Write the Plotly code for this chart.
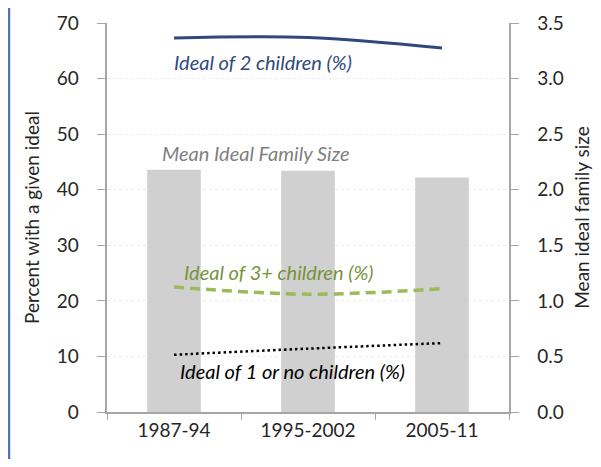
import plotly.graph_objects as go

categories = ["1987-94", "1995-2002", "2005-11"]
mean_ideal_size = [2.18, 2.17, 2.11]
ideal_two = [67.3, 67.4, 65.5]
ideal_three_plus = [22.5, 21.2, 22.2]
ideal_one_or_none = [10.3, 11.4, 12.4]

FONT = "Lato"
OFF = 8  # page body margin
W, H = 601 - 2 * OFF, 467 - 2 * OFF
PL, PR, PT, PB = 107, 509, 23, 412  # plot area in screenshot pixels
L, T = PL - OFF, PT - OFF
R = W - (PR - OFF)
B = H - (PB - OFF)
pw, ph = PR - PL, PB - PT

def px(x):
    return (x - PL) / pw

def py(y):
    return (PB - y) / ph

fig = go.Figure()
fig.add_trace(go.Bar(x=categories, y=mean_ideal_size, width=0.4,
                     marker=dict(color="#D0D0D0", line=dict(width=0)),
                     yaxis="y", showlegend=False))
fig.add_trace(go.Scatter(x=categories, y=ideal_two, mode="lines", yaxis="y2",
                         line=dict(color="#2E4A7D", width=3, shape="spline"), showlegend=False))
fig.add_trace(go.Scatter(x=categories, y=ideal_three_plus, mode="lines", yaxis="y2",
                         line=dict(color="#9BBB59", width=3.5, dash="10px,6px", shape="spline"), showlegend=False))
fig.add_trace(go.Scatter(x=categories, y=ideal_one_or_none, mode="lines", yaxis="y2",
                         line=dict(color="#000000", width=2.5, dash="2.5px,3px", shape="spline"), showlegend=False))

axis_col = "#A6A6A6"
TS = 19
PAD = "\u00a0\u00a0\u00a0"
fig.update_layout(
    template="none",
    width=W, height=H,
    margin=dict(l=L, r=R, t=T, b=B, autoexpand=False),
    paper_bgcolor="white", plot_bgcolor="white",
    font=dict(family=FONT, color="#262626"),
    bargap=0.6,
    xaxis=dict(type="category", showline=True, linecolor=axis_col, linewidth=1.5,
               ticks="outside", tickson="boundaries", ticklen=6, tickcolor=axis_col,
               tickfont=dict(size=TS, color="#262626"), showgrid=False, zeroline=False,
               automargin=False),
    yaxis=dict(side="right", range=[0, 3.5], dtick=0.5, tickformat=".1f",
               showline=True, linecolor=axis_col, linewidth=1.5,
               ticks="outside", ticklen=8, tickcolor=axis_col, tickprefix=PAD,
               tickfont=dict(size=TS, color="#262626"),
               showgrid=True, gridcolor="#E8ECF2", griddash="dot", gridwidth=1,
               zeroline=False, automargin=False,
               title=dict(text="Mean ideal family size", font=dict(size=TS, color="#262626"), standoff=22)),
    yaxis2=dict(side="left", overlaying="y", range=[0, 70], dtick=10,
                showline=True, linecolor=axis_col, linewidth=1.5,
                ticks="outside", ticklen=8, tickcolor=axis_col, ticksuffix=PAD,
                tickfont=dict(size=TS, color="#262626"),
                showgrid=False, zeroline=False, automargin=False,
                title=dict(text="Percent with a given ideal", font=dict(size=TS, color="#262626"), standoff=12)),
)

ann = [
    ("Ideal of 2 children (%)", 263, 62, "#2E4A7D"),
    ("Mean Ideal Family Size", 256, 153, "#808080"),
    ("Ideal of 3+ children (%)", 278, 272, "#77933C"),
    ("Ideal of 1 or no children (%)", 292, 371, "#000000"),
]
for text, x, y, col in ann:
    fig.add_annotation(text="<i>%s</i>" % text, xref="paper", yref="paper",
                       x=px(x), y=py(y), xanchor="center", yanchor="middle",
                       showarrow=False,
                       font=dict(family=FONT, size=20, color=col))

fig.add_shape(type="line", xref="paper", yref="paper",
              x0=px(9), x1=px(9), y0=py(0), y1=py(467),
              line=dict(color="#4F73B0", width=2.5))

fig.write_html("out.html")
